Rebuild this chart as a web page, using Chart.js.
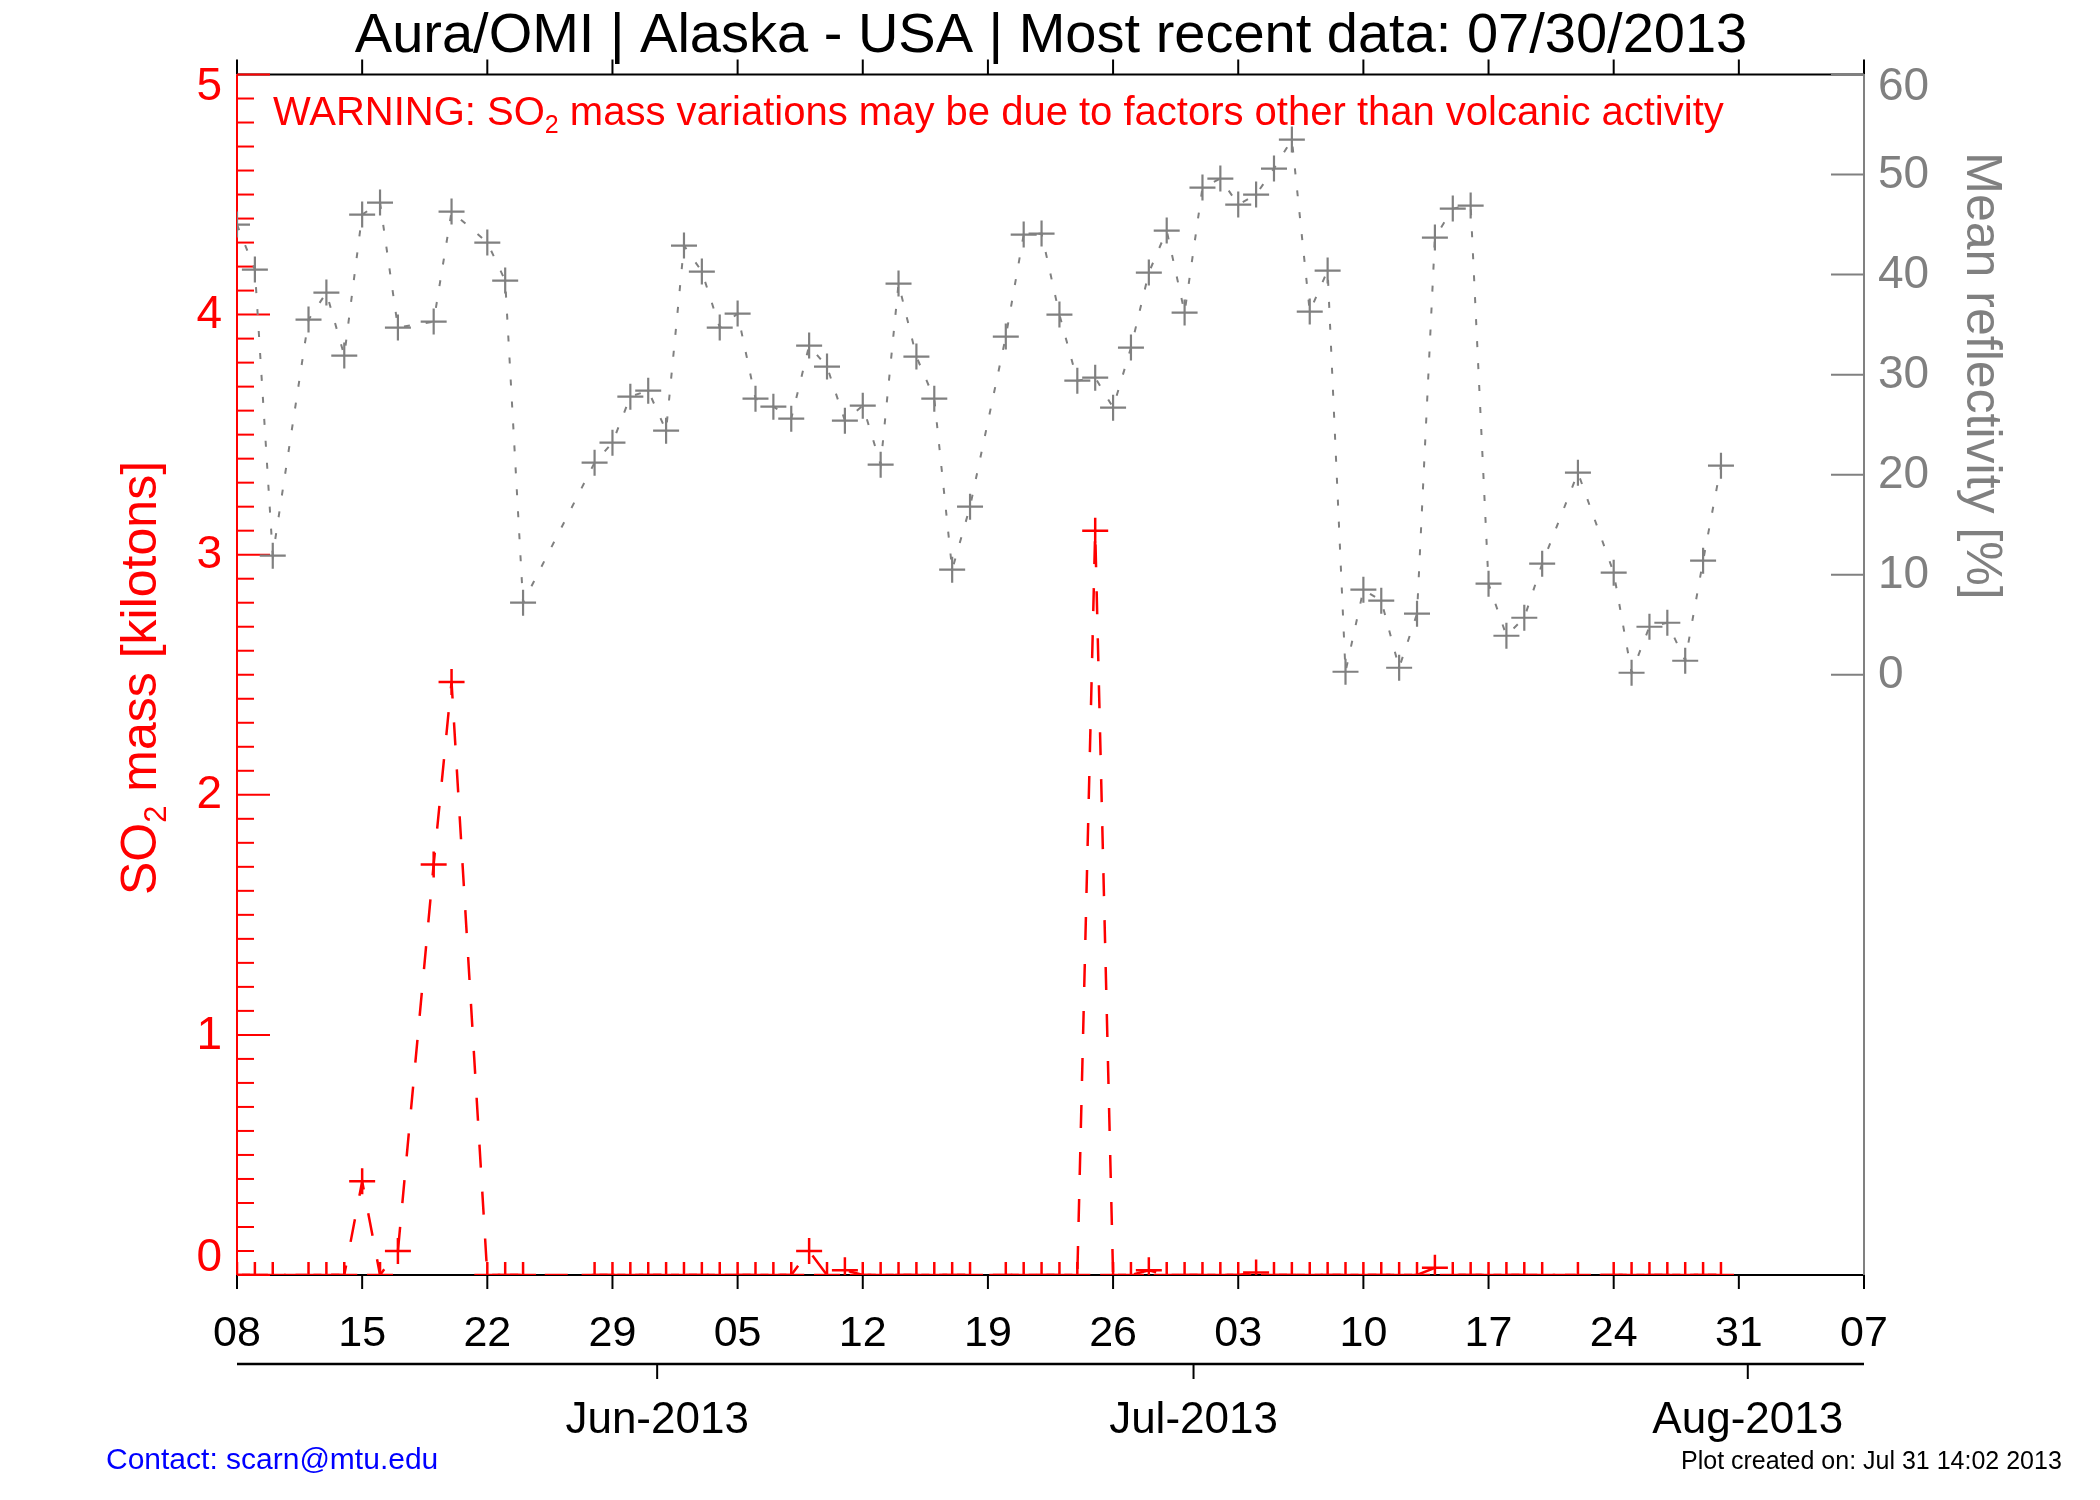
<!DOCTYPE html>
<html>
<head>
<meta charset="utf-8">
<script src="https://cdn.jsdelivr.net/npm/chart.js@4.4.0/dist/chart.umd.min.js"></script>
<style>
  html, body { margin: 0; padding: 0; background: #ffffff; }
  #wrap { width: 2100px; height: 1500px; position: relative; background: #ffffff; }
</style>
</head>
<body>
<div id="wrap"><canvas id="c" width="2100" height="1500"></canvas></div>
<script>
// ---------------- data ----------------
const START_DATE = '2013-05-08';
const END_DATE = '2013-08-07';

const OBS_DATES = [
  '2013-05-08','2013-05-09','2013-05-10','2013-05-12','2013-05-13','2013-05-14','2013-05-15','2013-05-16',
  '2013-05-17','2013-05-19','2013-05-20','2013-05-22','2013-05-23','2013-05-24','2013-05-28','2013-05-29',
  '2013-05-30','2013-05-31','2013-06-01','2013-06-02','2013-06-03','2013-06-04','2013-06-05','2013-06-06',
  '2013-06-07','2013-06-08','2013-06-09','2013-06-10','2013-06-11','2013-06-12','2013-06-13','2013-06-14',
  '2013-06-15','2013-06-16','2013-06-17','2013-06-18','2013-06-20','2013-06-21','2013-06-22','2013-06-23',
  '2013-06-24','2013-06-25','2013-06-26','2013-06-27','2013-06-28','2013-06-29','2013-06-30','2013-07-01',
  '2013-07-02','2013-07-03','2013-07-04','2013-07-05','2013-07-06','2013-07-07','2013-07-08','2013-07-09',
  '2013-07-10','2013-07-11','2013-07-12','2013-07-13','2013-07-14','2013-07-15','2013-07-16','2013-07-17',
  '2013-07-18','2013-07-19','2013-07-20','2013-07-22','2013-07-24','2013-07-25','2013-07-26','2013-07-27',
  '2013-07-28','2013-07-29','2013-07-30'
];

// Mean reflectivity [%] (grey, right axis)
const REFLECTIVITY = [
  45.0, 40.5, 11.9, 35.5, 38.2, 31.9, 46.0, 47.2,
  34.7, 35.3, 46.3, 43.2, 39.4, 7.2, 21.2, 23.2,
  27.8, 28.4, 24.4, 42.9, 40.3, 34.7, 36.1, 27.6,
  26.8, 25.6, 32.9, 30.8, 25.4, 26.9, 21.0, 39.1,
  31.8, 27.6, 10.5, 16.8, 33.8, 44.0, 44.1, 36.0,
  29.4, 29.7, 26.7, 32.7, 40.2, 44.4, 36.2, 48.7,
  49.6, 47.0, 48.0, 50.6, 53.5, 36.3, 40.4, 0.3,
  8.5, 7.4, 0.7, 6.1, 43.7, 46.6, 46.9, 9.1,
  3.9, 5.7, 11.1, 20.2, 10.2, 0.2, 4.8, 5.2,
  1.4, 11.4, 20.9
];

// SO2 mass [kilotons] (red, left axis)
const SO2_MASS = [
  0, 0, 0, 0, 0, 0, 0.39, 0,
  0.10, 1.71, 2.47, 0, 0, 0, 0, 0,
  0, 0, 0, 0, 0, 0, 0, 0,
  0, 0, 0.10, 0, 0.02, 0, 0, 0,
  0, 0, 0, 0, 0, 0, 0, 0,
  0, 3.10, 0, 0, 0.02, 0, 0, 0,
  0, 0, 0.01, 0, 0, 0, 0, 0,
  0, 0, 0, 0, 0.03, 0, 0, 0,
  0, 0, 0, 0, 0, 0, 0, 0,
  0, 0, 0
];

const WEEK_TICK_LABELS = ['08','15','22','29','05','12','19','26','03','10','17','24','31','07'];
const MONTH_LABELS = ['Jun-2013', 'Jul-2013', 'Aug-2013'];
const MONTH_TICK_DAYS = [23.5, 53.5, 84.5];
const SO2_TICKS = [0, 1, 2, 3, 4, 5];
const REFL_TICKS = [0, 10, 20, 30, 40, 50, 60];

const TITLE = 'Aura/OMI | Alaska - USA | Most recent data: 07/30/2013';
const WARNING = [['WARNING: SO', false], ['2', true], [' mass variations may be due to factors other than volcanic activity', false]];
const LEFT_TITLE = [['SO', false], ['2', true], [' mass [kilotons]', false]];
const RIGHT_TITLE = [['Mean reflectivity [%]', false]];
const CONTACT = 'Contact: scarn@mtu.edu';
const CREATED = 'Plot created on: Jul 31 14:02 2013';

// ---------------- helpers ----------------
const DAY_MS = 86400000;
function dayOffset(s) {
  const [yy, mm, dd] = s.split('-').map(Number);
  const [y0, m0, d0] = START_DATE.split('-').map(Number);
  return (Date.UTC(yy, mm - 1, dd) - Date.UTC(y0, m0 - 1, d0)) / DAY_MS;
}
const X_MAX = dayOffset(END_DATE);
const soPoints = OBS_DATES.map((d, i) => ({ x: dayOffset(d), y: SO2_MASS[i] }));
const reflPoints = OBS_DATES.map((d, i) => ({ x: dayOffset(d), y: REFLECTIVITY[i] }));

const FONT = '"Liberation Sans", Arial, Helvetica, sans-serif';
const F = px => px + 'px ' + FONT;
const RED = '#ff0000';
const GREY = '#808080';

function seg(ctx, x1, y1, x2, y2) {
  ctx.beginPath(); ctx.moveTo(x1, y1); ctx.lineTo(x2, y2); ctx.stroke();
}
function richWidth(ctx, parts, size) {
  let w = 0;
  for (const [t, sub] of parts) { ctx.font = F(sub ? Math.round(size * 0.62) : size); w += ctx.measureText(t).width; }
  return w;
}
function richText(ctx, parts, x, y, size, align) {
  const w = richWidth(ctx, parts, size);
  let cx = align === 'center' ? x - w / 2 : (align === 'right' ? x - w : x);
  ctx.textAlign = 'left';
  ctx.textBaseline = 'alphabetic';
  for (const [t, sub] of parts) {
    ctx.font = F(sub ? Math.round(size * 0.62) : size);
    ctx.fillText(t, cx, sub ? y + size * 0.2 : y);
    cx += ctx.measureText(t).width;
  }
}

// ---------------- axes / frame plugin ----------------
const framePlugin = {
  id: 'idlFrame',
  beforeDatasetsDraw(chart) {
    const { ctx, chartArea: a, scales } = chart;
    const xs = scales.x, ys = scales.y, yr = scales.y1;
    ctx.save();
    ctx.lineCap = 'butt';

    // black top and bottom axes with weekly ticks (outside)
    ctx.strokeStyle = '#000000';
    ctx.lineWidth = 2;
    seg(ctx, a.left, a.top, a.right, a.top);
    seg(ctx, a.left, a.bottom, a.right, a.bottom);
    for (let i = 0; i < WEEK_TICK_LABELS.length; i++) {
      const px = xs.getPixelForValue(i * 7);
      seg(ctx, px, a.top, px, a.top - 15);
      seg(ctx, px, a.bottom, px, a.bottom + 14);
    }

    // grey right axis (reflectivity)
    ctx.strokeStyle = GREY;
    ctx.lineWidth = 2;
    seg(ctx, a.right, a.top, a.right, a.bottom);
    for (const v of REFL_TICKS) {
      const py = yr.getPixelForValue(v);
      seg(ctx, a.right, py, a.right - 33, py);
    }

    // red left axis (SO2) with minor ticks
    ctx.strokeStyle = RED;
    ctx.lineWidth = 2;
    seg(ctx, a.left, a.top, a.left, a.bottom);
    const smin = SO2_TICKS[0], smax = SO2_TICKS[SO2_TICKS.length - 1];
    for (let k = 0; k <= (smax - smin) * 10; k++) {
      const v = smin + k / 10;
      const py = ys.getPixelForValue(v);
      const major = k % 10 === 0;
      seg(ctx, a.left, py, a.left + (major ? 33 : 17), py);
    }
    ctx.restore();
  },
  afterDraw(chart) {
    const { ctx, chartArea: a, scales } = chart;
    const xs = scales.x, ys = scales.y, yr = scales.y1;
    ctx.save();

    // title
    ctx.fillStyle = '#000000';
    ctx.font = F(56);
    ctx.textAlign = 'center';
    ctx.textBaseline = 'alphabetic';
    ctx.fillText(TITLE, 1051, 52);

    // warning
    ctx.fillStyle = RED;
    richText(ctx, WARNING, 273, 125, 40, 'left');

    // left tick labels
    ctx.fillStyle = RED;
    ctx.font = F(46);
    ctx.textAlign = 'right';
    ctx.textBaseline = 'middle';
    SO2_TICKS.forEach((v, i) => {
      let py = ys.getPixelForValue(v);
      if (i === 0) py -= 18;
      if (i === SO2_TICKS.length - 1) py += 12;
      ctx.fillText(String(v), a.left - 15, py + 1);
    });

    // right tick labels
    ctx.fillStyle = GREY;
    ctx.textAlign = 'left';
    REFL_TICKS.forEach((v, i) => {
      let py = yr.getPixelForValue(v);
      if (i === REFL_TICKS.length - 1) py += 12;
      ctx.fillText(String(v), a.right + 14, py + 1);
    });

    // week labels
    ctx.fillStyle = '#000000';
    ctx.font = F(43);
    ctx.textAlign = 'center';
    ctx.textBaseline = 'alphabetic';
    WEEK_TICK_LABELS.forEach((lab, i) => {
      ctx.fillText(lab, xs.getPixelForValue(i * 7), 1346);
    });

    // month axis
    ctx.strokeStyle = '#000000';
    ctx.lineWidth = 2.5;
    seg(ctx, a.left, 1364, a.right, 1364);
    ctx.lineWidth = 2;
    ctx.font = F(44);
    MONTH_TICK_DAYS.forEach((d, i) => {
      const px = xs.getPixelForValue(d);
      seg(ctx, px, 1364, px, 1379);
      ctx.fillText(MONTH_LABELS[i], px, 1433);
    });

    // left axis title (rotated)
    ctx.save();
    ctx.translate(156, 678);
    ctx.rotate(-Math.PI / 2);
    ctx.fillStyle = RED;
    richText(ctx, LEFT_TITLE, 0, 0, 50, 'center');
    ctx.restore();

    // right axis title (rotated)
    ctx.save();
    ctx.translate(1967, 376);
    ctx.rotate(Math.PI / 2);
    ctx.fillStyle = GREY;
    richText(ctx, RIGHT_TITLE, 0, 0, 50, 'center');
    ctx.restore();

    // footer
    ctx.textAlign = 'left';
    ctx.textBaseline = 'alphabetic';
    ctx.fillStyle = '#0000ff';
    ctx.font = F(30);
    ctx.fillText(CONTACT, 106, 1469);
    ctx.fillStyle = '#000000';
    ctx.font = F(25);
    ctx.fillText(CREATED, 1681, 1469);

    ctx.restore();
  }
};

// ---------------- chart ----------------
new Chart(document.getElementById('c'), {
  type: 'line',
  data: {
    datasets: [
      {
        label: 'SO2 mass [kilotons]',
        data: soPoints,
        yAxisID: 'y',
        borderColor: RED,
        borderWidth: 2.5,
        borderDash: [23, 24],
        fill: false,
        tension: 0,
        pointStyle: 'cross',
        pointRadius: 13,
        pointBorderWidth: 2.5,
        pointBorderColor: RED,
        pointBackgroundColor: RED
      },
      {
        label: 'Mean reflectivity [%]',
        data: reflPoints,
        yAxisID: 'y1',
        borderColor: GREY,
        borderWidth: 2,
        borderDash: [6, 16],
        fill: false,
        tension: 0,
        pointStyle: 'cross',
        pointRadius: 13,
        pointBorderWidth: 2.2,
        pointBorderColor: GREY,
        pointBackgroundColor: GREY
      }
    ]
  },
  options: {
    responsive: false,
    animation: false,
    devicePixelRatio: 1,
    events: [],
    layout: { padding: { left: 237, right: 236, top: 74.5, bottom: 225 } },
    plugins: { legend: { display: false }, tooltip: { enabled: false }, title: { display: false } },
    scales: {
      x: { type: 'linear', min: 0, max: X_MAX, display: false },
      y: { type: 'linear', min: SO2_TICKS[0], max: SO2_TICKS[SO2_TICKS.length - 1], display: false },
      y1: { type: 'linear', min: -60, max: 60, display: false }
    }
  },
  plugins: [framePlugin]
});
</script>
</body>
</html>
